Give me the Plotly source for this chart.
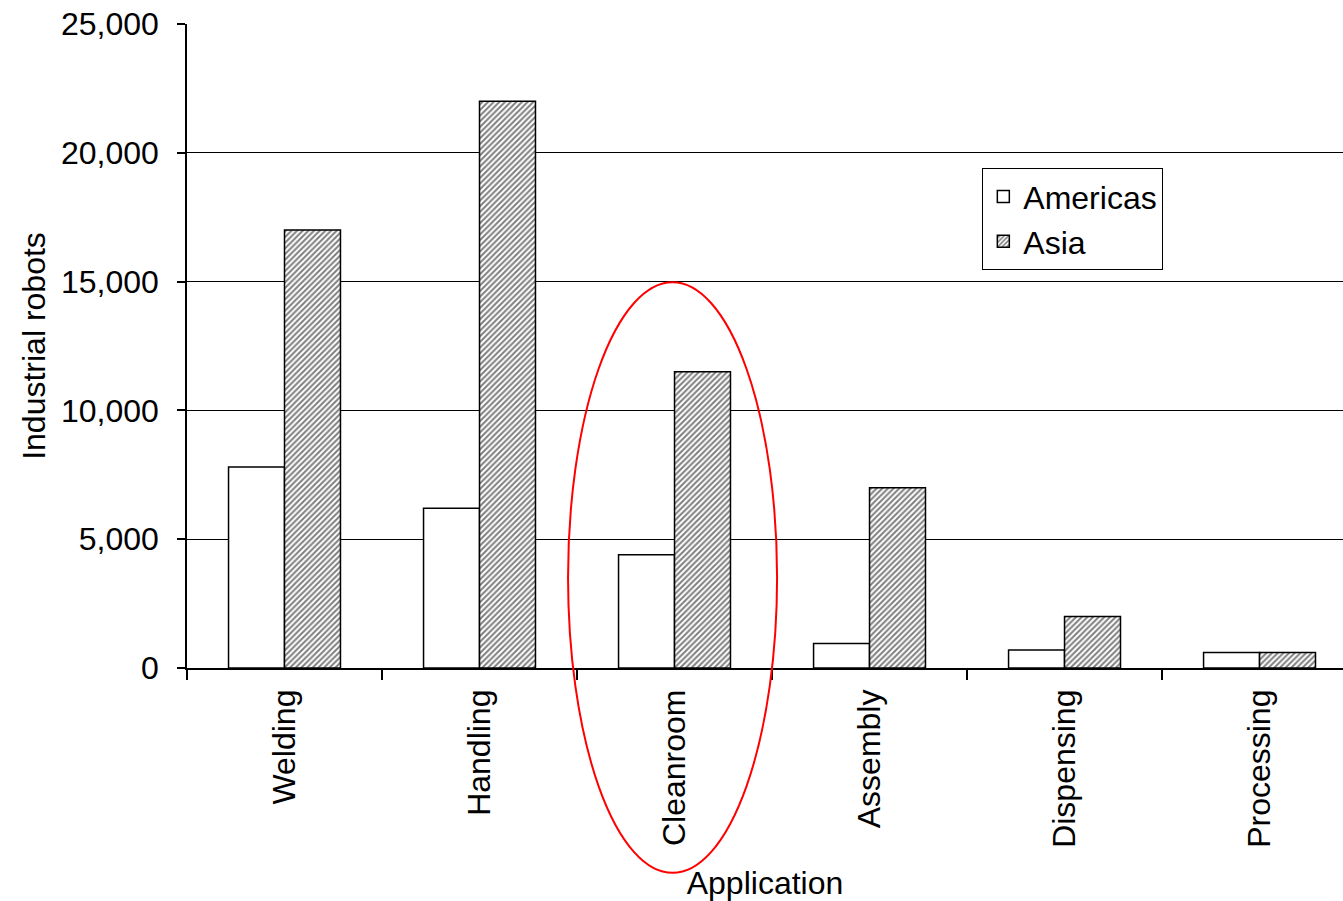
import plotly.graph_objects as go

categories = ["Welding", "Handling", "Cleanroom", "Assembly", "Dispensing", "Processing"]
americas = [7800, 6200, 4400, 950, 700, 600]
asia = [17000, 22000, 11500, 7000, 2000, 600]
y_ticks = [0, 5000, 10000, 15000, 20000, 25000]

FONT = dict(family="Liberation Sans, Arial, sans-serif", size=32, color="black")

fig = go.Figure()
fig.add_trace(go.Bar(
    x=categories, y=americas, name="Americas",
    marker=dict(color="white", line=dict(color="black", width=1.5)),
))
fig.add_trace(go.Bar(
    x=categories, y=asia, name="Asia",
    marker=dict(color="white", line=dict(color="black", width=1.5),
                pattern=dict(shape="/", size=4, solidity=0.5,
                             fgcolor="black", bgcolor="white")),
))

fig.add_shape(type="circle", xref="x", yref="paper",
              x0=1.454, x1=2.526, y0=-0.318, y1=0.599,
              line=dict(color="red", width=2), layer="above")

fig.update_layout(
    width=1343, height=901,
    margin=dict(l=187, r=0, t=24, b=233),
    paper_bgcolor="white", plot_bgcolor="white",
    font=FONT,
    barmode="group", bargap=0.426, bargroupgap=0,
    showlegend=True,
    legend=dict(x=0.688, y=0.776, xanchor="left", yanchor="top",
                bordercolor="black", borderwidth=1, bgcolor="white",
                font=FONT, tracegroupgap=0),
    xaxis=dict(
        range=[-0.5, 5.428], showline=True, linecolor="black", linewidth=1.5,
        ticks="outside", tickson="boundaries", ticklen=10, tickcolor="black",
        tickwidth=1.5, tickangle=-90, showgrid=False, ticklabelstandoff=7,
        automargin=False,
        title=dict(text="Application", font=FONT, standoff=30),
        tickfont=FONT,
    ),
    yaxis=dict(
        range=[0, 25000], tickvals=y_ticks, tickformat=",",
        showline=True, linecolor="black", linewidth=1.5,
        ticks="outside", ticklen=8, tickcolor="black", tickwidth=1.5,
        showgrid=True, gridcolor="black", gridwidth=1, zeroline=False,
        ticklabelstandoff=12, ticklabeloverflow="allow", automargin=False,
        title=dict(text="Industrial robots", font=FONT, standoff=6),
        tickfont=FONT,
    ),
)

fig.write_html("out.html", config={"displayModeBar": False},
               post_script="document.body.style.margin='0';document.body.style.overflow='hidden';")
